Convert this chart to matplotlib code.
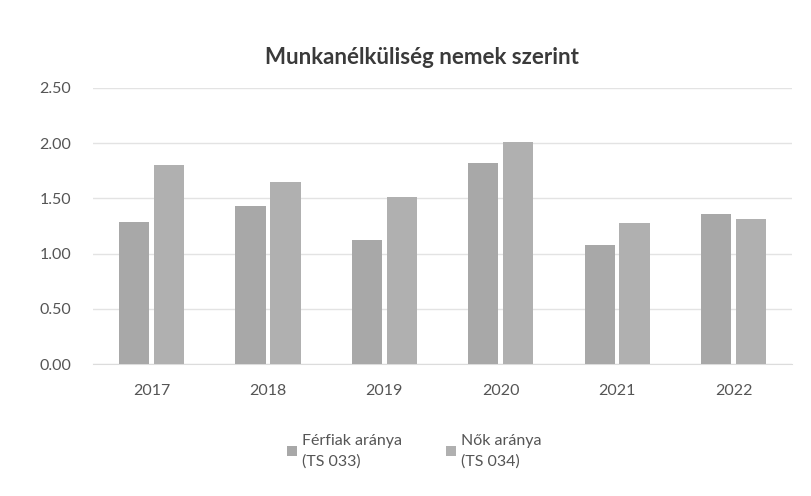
import matplotlib
matplotlib.use("Agg")
import matplotlib.pyplot as plt
import numpy as np

years = ["2017", "2018", "2019", "2020", "2021", "2022"]
ferfiak = [1.29, 1.43, 1.12, 1.82, 1.08, 1.36]
nok = [1.80, 1.65, 1.51, 2.01, 1.28, 1.31]
series_labels = ["Férfiak aránya\n(TS 033)", "Nők aránya\n(TS 034)"]
yticks = [0.0, 0.5, 1.0, 1.5, 2.0, 2.5]

plt.rcParams['font.family'] = ['Lato', 'DejaVu Sans']

fig = plt.figure(figsize=(8.12, 4.96), dpi=100)
ax = fig.add_axes([0.115, 0.266, 0.86, 0.557])

x = np.arange(len(years))
w = 0.26
c1 = "#a8a8a8"
c2 = "#b0b0b0"
ax.bar(x - w / 2 - 0.02, ferfiak, width=w, color=c1, label=series_labels[0], zorder=3)
ax.bar(x + w / 2 + 0.02, nok, width=w, color=c2, label=series_labels[1], zorder=3)

ax.set_ylim(0, 2.5)
ax.set_xlim(-0.5, len(years) - 0.5)
ax.set_yticks(yticks)
ax.set_yticklabels([f"{v:.2f}" for v in yticks])
ax.set_xticks(x)
ax.set_xticklabels(years)
ax.tick_params(axis='both', length=0, labelsize=11.5, colors="#555555")
ax.tick_params(axis='y', pad=16)
ax.tick_params(axis='x', pad=14)
ax.grid(axis='y', color="#e3e3e3", linewidth=1, zorder=0)
for s in ["top", "right", "left"]:
    ax.spines[s].set_visible(False)
ax.spines["bottom"].set_color("#dcdcdc")

fig.suptitle("Munkanélküliség nemek szerint", x=0.52, y=0.905, fontsize=16,
             fontweight="bold", color="#3a3a3a")

leg = fig.legend(loc="center", bbox_to_anchor=(0.51, 0.09), ncol=2, frameon=False,
                 fontsize=11.5, handlelength=0.6, handleheight=0.6, handletextpad=0.3,
                 columnspacing=2.8, labelcolor="#555555")
for t in leg.get_texts():
    t.set_linespacing(1.5)

fig.savefig("out.png", dpi=100, facecolor="white")
